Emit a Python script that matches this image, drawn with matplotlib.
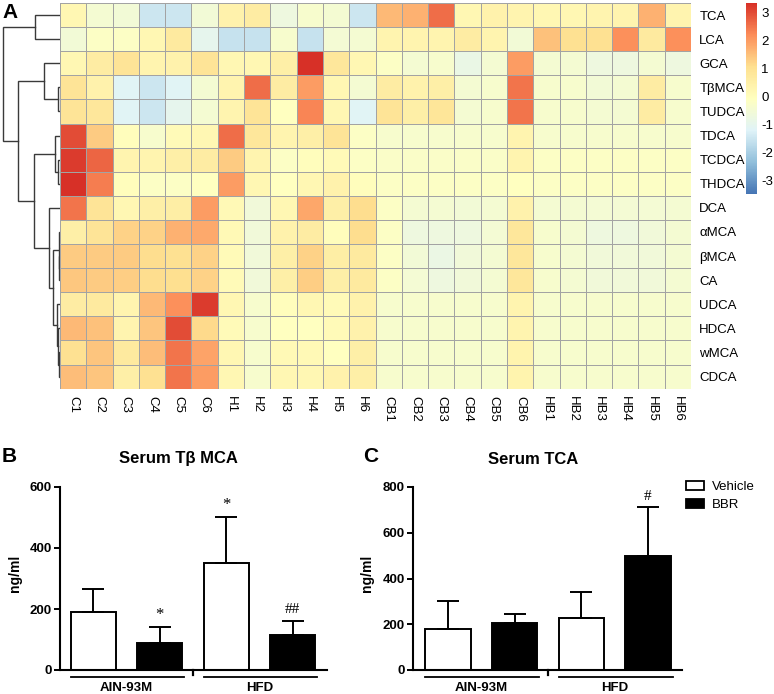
import matplotlib
matplotlib.use('Agg')
import matplotlib.pyplot as plt
import matplotlib.transforms as mtransforms
import numpy as np
from matplotlib.colors import LinearSegmentedColormap, Normalize
from matplotlib.patches import Patch

plt.rcParams['font.family'] = ['Liberation Sans', 'DejaVu Sans']
plt.rcParams['axes.unicode_minus'] = False

# ---------------- data ----------------
columns = ['C1', 'C2', 'C3', 'C4', 'C5', 'C6', 'H1', 'H2', 'H3', 'H4', 'H5', 'H6',
           'CB1', 'CB2', 'CB3', 'CB4', 'CB5', 'CB6', 'HB1', 'HB2', 'HB3', 'HB4', 'HB5', 'HB6']
rows = ['TCA', 'LCA', 'GCA', 'TβMCA', 'TUDCA', 'TDCA', 'TCDCA', 'THDCA', 'DCA',
        'αMCA', 'βMCA', 'CA', 'UDCA', 'HDCA', 'wMCA', 'CDCA']

TCA   = [0.2, -0.45, -0.55, -1.5, -1.5, -0.55, 0.4, 0.6, -0.7, -0.35, -0.45, -1.5, 1.6, 1.7, 2.6, 0.2, 0.4, 0.3, 0.2, 0.2, 0.3, 0.3, 1.7, 0.3]
LCA   = [-0.55, -0.2, -0.2, 0.2, 0.7, -1.0, -1.6, -1.6, -0.35, -1.6, -0.5, -0.45, 0.3, 0.3, 0.3, 0.6, 0.3, -0.55, 1.5, 1.0, 1.0, 2.15, 0.7, 2.15]
GCA   = [0.2, 0.6, 0.9, 0.3, 0.4, 0.9, 0.2, 0.2, 0.5, 3.35, 0.8, 0.2, -0.2, -0.45, -0.35, -0.85, -0.45, 2.0, -0.45, -0.45, -0.7, -0.7, -0.45, -0.7]
TbMCA = [0.9, 0.4, -1.15, -1.5, -1.15, -0.45, 0.3, 2.6, 0.6, 2.0, 0.2, -0.45, 0.6, 0.4, 0.5, -0.45, -0.35, 2.5, -0.35, -0.35, -0.55, -0.45, 0.6, -0.35]
TUDCA = [0.9, 0.8, -1.15, -1.5, -1.0, -0.45, 0.3, 0.9, -0.1, 2.3, 0.2, -1.15, 0.9, 0.5, 0.85, -0.45, -0.35, 2.5, -0.35, -0.35, -0.45, -0.45, 0.6, -0.35]
TDCA  = [3.0, 1.35, 0.0, -0.35, 0.1, 0.2, 2.6, 0.8, 0.3, 0.5, 0.9, -0.2, -0.35, -0.35, -0.35, -0.35, -0.35, 0.3, -0.35, -0.35, -0.35, -0.35, -0.35, -0.35]
TCDCA = [3.2, 2.7, 0.3, 0.3, 0.5, 0.6, 1.35, 0.3, -0.2, 0.0, 0.1, -0.2, -0.25, -0.25, -0.25, -0.25, -0.25, 0.3, -0.2, -0.2, -0.2, -0.2, -0.2, -0.2]
THDCA = [3.35, 2.4, 0.0, -0.2, -0.2, -0.1, 2.0, 0.2, -0.1, 0.2, 0.4, 0.0, -0.2, -0.2, -0.2, -0.2, -0.2, -0.1, -0.2, -0.2, -0.2, -0.2, -0.2, -0.2]
DCA   = [2.5, 0.9, 0.2, 0.5, 0.55, 2.0, 0.15, -0.6, 0.2, 1.85, 0.5, 1.1, -0.2, -0.45, -0.45, -0.55, -0.45, 0.4, -0.45, -0.45, -0.5, -0.5, -0.5, -0.45]
aMCA  = [0.5, 0.9, 1.25, 1.25, 1.7, 1.8, 0.15, -0.6, 0.4, 0.6, 0.0, 1.1, -0.2, -0.7, -0.7, -0.7, -0.5, 0.8, -0.35, -0.45, -0.7, -0.7, -0.6, -0.45]
bMCA  = [1.35, 1.35, 1.35, 1.1, 1.0, 1.25, 0.1, -0.6, 0.5, 1.25, 0.55, 0.7, -0.2, -0.55, -0.8, -0.6, -0.45, 0.8, -0.35, -0.45, -0.6, -0.6, -0.6, -0.45]
CA    = [1.4, 1.35, 1.3, 1.1, 1.05, 1.25, 0.1, -0.6, 0.5, 1.3, 0.5, 0.7, -0.2, -0.5, -0.7, -0.6, -0.45, 0.8, -0.35, -0.45, -0.6, -0.6, -0.6, -0.45]
UDCA  = [0.6, 0.7, 0.3, 1.6, 2.15, 3.2, 0.2, -0.35, 0.0, 0.2, 0.1, 0.4, -0.35, -0.35, -0.35, -0.35, -0.35, 0.3, -0.35, -0.35, -0.35, -0.35, -0.35, -0.35]
HDCA  = [1.6, 1.5, 0.3, 1.45, 3.0, 1.15, 0.1, -0.35, -0.1, -0.1, 0.1, 0.4, -0.35, -0.35, -0.35, -0.35, -0.35, 0.3, -0.35, -0.35, -0.35, -0.35, -0.35, -0.35]
wMCA  = [1.0, 1.45, 0.7, 1.55, 2.5, 1.9, 0.2, -0.35, 0.15, 0.15, -0.1, 0.5, -0.35, -0.35, -0.35, -0.35, -0.35, 0.35, -0.35, -0.35, -0.35, -0.35, -0.35, -0.35]
CDCA  = [1.55, 1.45, 0.5, 1.0, 2.5, 2.0, 0.2, -0.35, 0.2, 0.2, 0.4, 0.5, -0.35, -0.35, -0.35, -0.35, -0.35, 0.35, -0.35, -0.35, -0.35, -0.35, -0.35, -0.35]

heat_rows = [TCA, LCA, GCA, TbMCA, TUDCA, TDCA, TCDCA, THDCA, DCA, aMCA, bMCA, CA, UDCA, HDCA, wMCA, CDCA]
color_min, color_max = -3.5, 3.35
cbar_ticks = [-3, -2, -1, 0, 1, 2, 3]

# row dendrogram: (left child, right child, merge height, node name)
dendro_merges = [
    ('TCA', 'LCA', 25.0, 'a'),
    ('TβMCA', 'TUDCA', 1.7, 'b'),
    ('GCA', 'b', 16.0, 'c'),
    ('TCDCA', 'THDCA', 1.7, 'd'),
    ('TDCA', 'd', 5.0, 'e'),
    ('βMCA', 'CA', 0.7, 'f'),
    ('αMCA', 'f', 1.5, 'g'),
    ('wMCA', 'CDCA', 0.7, 'h'),
    ('HDCA', 'h', 1.8, 'i'),
    ('UDCA', 'i', 3.5, 'j'),
    ('g', 'j', 6.7, 'k'),
    ('DCA', 'k', 10.7, 'l'),
    ('e', 'l', 25.7, 'm'),
    ('c', 'm', 41.7, 'n'),
    ('a', 'n', 56.7, 'root'),
]

groups = ['AIN-93M', 'HFD']
series = ['Vehicle', 'BBR']
tbmca_vehicle = [190, 350]
tbmca_vehicle_err = [75, 152]
tbmca_bbr = [88, 115]
tbmca_bbr_err = [52, 47]
tbmca_vehicle_marks = ['', '*']
tbmca_bbr_marks = ['*', '##']

tca_vehicle = [180, 226]
tca_vehicle_err = [120, 117]
tca_bbr = [207, 497]
tca_bbr_err = [37, 215]
tca_vehicle_marks = ['', '']
tca_bbr_marks = ['', '#']

# ---------------- figure ----------------
W, H = 774, 694
fig = plt.figure(figsize=(W / 100, H / 100), dpi=100)


def px_axes(x0, y0, x1, y1):
    return fig.add_axes([x0 / W, 1 - y1 / H, (x1 - x0) / W, (y1 - y0) / H])


cmap = LinearSegmentedColormap.from_list(
    'rdylbu', ['#4575B4', '#91BFDB', '#E0F3F8', '#FFFFBF', '#FEE090', '#FC8D59', '#D73027'], N=256)
norm = Normalize(vmin=color_min, vmax=color_max)

# heatmap
axh = px_axes(60, 3, 691, 388.6)
M = np.array(heat_rows)
mesh = axh.pcolormesh(np.arange(len(columns) + 1), np.arange(len(rows) + 1), M,
                      cmap=cmap, norm=norm, edgecolors='#a3a3a3', linewidth=0.6)
axh.set_xlim(0, len(columns))
axh.set_ylim(len(rows), 0)
for s in axh.spines.values():
    s.set_visible(False)
axh.yaxis.tick_right()
axh.set_yticks(np.arange(len(rows)) + 0.5)
axh.set_yticklabels(rows, fontsize=9.5)
axh.set_xticks(np.arange(len(columns)) + 0.5)
axh.set_xticklabels(columns, fontsize=9.5, rotation=270)
axh.tick_params(length=0, pad=5)
axh.tick_params(axis='y', pad=6)

# dendrogram
axd = px_axes(0, 3, 60, 388.6)
axd.set_xlim(60, 0)
axd.set_ylim(len(rows), 0)
axd.axis('off')
node_pos = {r: (i + 0.5, 0.0) for i, r in enumerate(rows)}
for left, right, h, name in dendro_merges:
    yl, hl = node_pos[left]
    yr, hr = node_pos[right]
    axd.plot([hl, h, h, hr], [yl, yl, yr, yr], color='#3a3a3a', lw=1.0, solid_joinstyle='miter')
    node_pos[name] = ((yl + yr) / 2, h)

# colorbar
cax = px_axes(746, 3, 757, 194)
cb = fig.colorbar(mesh, cax=cax, ticks=cbar_ticks)
cb.outline.set_visible(False)
cax.set_yticklabels([str(t) for t in cbar_ticks])
cax.tick_params(length=0, labelsize=9.5, pad=3)

fig.text(2 / W, 1 - 12 / H, 'A', fontsize=15, fontweight='bold', va='center', ha='left')


# bar charts
def bar_panel(ax, veh, veh_err, bbr, bbr_err, veh_marks, bbr_marks, ylim, yticks, xlim):
    w = 0.68
    pos_v = np.array([0, 2])
    pos_b = np.array([1, 3])
    ax.bar(pos_v, veh, width=w, color='white', edgecolor='black', linewidth=1.4, zorder=2)
    ax.bar(pos_b, bbr, width=w, color='black', edgecolor='black', linewidth=1.4, zorder=2)
    for pos, vals, errs in ((pos_v, veh, veh_err), (pos_b, bbr, bbr_err)):
        ax.errorbar(pos, vals, yerr=[np.zeros(len(vals)), errs], fmt='none', ecolor='black',
                    elinewidth=1.4, capsize=8, capthick=1.4, zorder=3)
    for pos, vals, errs, marks in ((pos_v, veh, veh_err, veh_marks), (pos_b, bbr, bbr_err, bbr_marks)):
        for p, v, e, m in zip(pos, vals, errs, marks):
            if m:
                ax.annotate(m, (p, v + e), xytext=(0, 3), textcoords='offset points',
                            ha='center', va='bottom', fontsize=12 if m == '*' else 11,
                            family='Liberation Serif')
    ax.set_ylim(*ylim)
    ax.set_xlim(*xlim)
    ax.set_yticks(yticks)
    ax.set_yticklabels([str(t) for t in yticks], fontweight='bold', fontsize=9.5)
    ax.set_xticks([])
    for s in ('top', 'right'):
        ax.spines[s].set_visible(False)
    for s in ('left', 'bottom'):
        ax.spines[s].set_linewidth(1.5)
    ax.tick_params(axis='y', length=4, width=1.4, pad=2)
    trans = mtransforms.blended_transform_factory(ax.transData, ax.transAxes)
    ax.plot([1.5, 1.5], [0, -0.03], transform=trans, color='black', lw=1.6, clip_on=False)
    for i, g in enumerate(groups):
        x0 = pos_v[i] - w / 2
        x1 = pos_b[i] + w / 2 + 0.03
        ax.plot([x0, x1], [-0.038, -0.038], transform=trans, color='black', lw=1.3, clip_on=False)
        ax.text((pos_v[i] + pos_b[i]) / 2, -0.098, g, transform=trans, ha='center', va='center',
                fontweight='bold', fontsize=9.5)
    ax.set_ylabel('ng/ml', fontweight='bold', fontsize=10)


axB = px_axes(60, 487, 327, 670)
bar_panel(axB, tbmca_vehicle, tbmca_vehicle_err, tbmca_bbr, tbmca_bbr_err,
          tbmca_vehicle_marks, tbmca_bbr_marks, (0, 600), [0, 200, 400, 600], (-0.505, 3.52))
axB.yaxis.set_label_coords(-0.144, 0.53)

axC = px_axes(413, 487, 682, 670)
bar_panel(axC, tca_vehicle, tca_vehicle_err, tca_bbr, tca_bbr_err,
          tca_vehicle_marks, tca_bbr_marks, (0, 800), [0, 200, 400, 600, 800], (-0.525, 3.51))
axC.yaxis.set_label_coords(-0.145, 0.53)

handles = [Patch(facecolor='white', edgecolor='black', linewidth=1.3),
           Patch(facecolor='black', edgecolor='black', linewidth=1.3)]
axC.legend(handles, series, loc='upper left', bbox_to_anchor=((686 - 413) / 269, (670 - 481) / 183),
           frameon=False, fontsize=9.5, handlelength=1.35, handleheight=0.7, handletextpad=0.6,
           borderaxespad=0, borderpad=0, labelspacing=0.45)

fig.text(178 / W, 1 - 459 / H, 'Serum Tβ MCA', fontsize=12, fontweight='bold', ha='center', va='center')
fig.text(533 / W, 1 - 459 / H, 'Serum TCA', fontsize=12, fontweight='bold', ha='center', va='center')
fig.text(2 / W, 1 - 457 / H, 'B', fontsize=15, fontweight='bold', ha='left', va='center')
fig.text(363 / W, 1 - 457 / H, 'C', fontsize=15, fontweight='bold', ha='left', va='center')

fig.savefig('out.png', dpi=100)
